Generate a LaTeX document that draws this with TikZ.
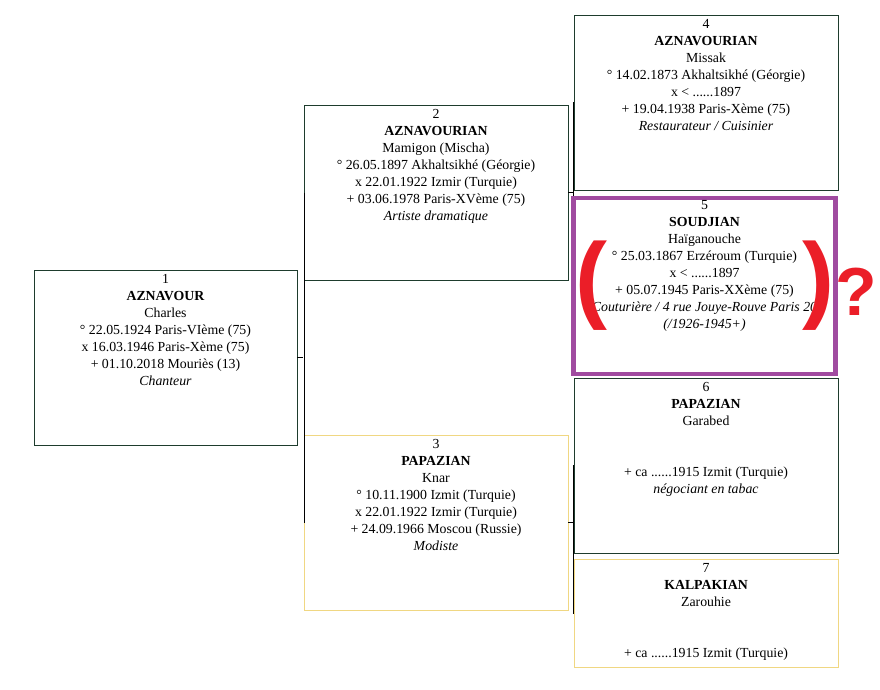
\documentclass[tikz,border=0pt]{standalone}
\usepackage{fontspec}
\setmainfont{Liberation Serif}
\newfontfamily\marksf{Liberation Sans}
\usetikzlibrary{positioning}
\definecolor{boxgreen}{RGB}{30,60,45}
\definecolor{boxyellow}{RGB}{240,215,130}
\definecolor{markpurple}{RGB}{160,75,160}
\definecolor{markred}{RGB}{235,30,40}
\tikzset{
	person/.style={draw=boxgreen, thin, minimum width=7.92cm, minimum height=5.25cm, inner sep=0pt},
	wife/.style={person, draw=boxyellow},
	info/.style={anchor=north, align=center, inner sep=0pt, font=\rmfamily\fontsize{11.8pt}{14.5pt}\selectfont},
	link/.style={draw=black, thin}
}
\begin{document}
\begin{tikzpicture}[x=0.03cm, y=-0.03cm]
	\useasboundingbox (0,0) rectangle (880,689);
	
	\node[person, minimum width=7.89cm] (p1) at (165.5,357.5) {};
	\node[person] (p2) at (436,192.5) {};
	\node[wife] (p3) at (436,522.5) {};
	\node[person] (p4) at (706,102.5) {};
	\node[person] (p6) at (706,465.5) {};
	\node[wife, minimum height=3.24cm] (p7) at (706,613) {};
	
	\coordinate (j1) at (303,357.5);
	\coordinate (j2) at (573,192.5);
	\coordinate (j3) at (573,522.5);
	\draw[link] (p1.east) -- (j1);
	\draw[link] (p2.west) -- (p3.west);
	\draw[link] (p2.east) -- (j2);
	\draw[link] (p3.east) -- (j3);
	\draw[link] (p4.west) -- ++(-1,0) |- (573,286);
	\draw[link] (p6.west) -- ++(-1,0) |- (p7.west);
	
	\node[draw=markpurple, line width=4pt, minimum width=7.86cm, minimum height=5.28cm, inner sep=0pt] (p5) at (704.5,286) {};
	
	\node[info] at ([yshift=-3.5pt]p1.north) {1\\\textbf{AZNAVOUR}\\Charles\\° 22.05.1924 Paris-VIème (75)\\x 16.03.1946 Paris-Xème (75)\\+ 01.10.2018 Mouriès (13)\\\textit{Chanteur}};
	\node[info] at ([yshift=-3.5pt]p2.north) {2\\\textbf{AZNAVOURIAN}\\Mamigon (Mischa)\\° 26.05.1897 Akhaltsikhé (Géorgie)\\x 22.01.1922 Izmir (Turquie)\\+ 03.06.1978 Paris-XVème (75)\\\textit{Artiste dramatique}};
	\node[info] at ([yshift=-3.5pt]p3.north) {3\\\textbf{PAPAZIAN}\\Knar\\° 10.11.1900 Izmit (Turquie)\\x 22.01.1922 Izmir (Turquie)\\+ 24.09.1966 Moscou (Russie)\\\textit{Modiste}};
	\node[info] at ([yshift=-3.5pt]p4.north) {4\\\textbf{AZNAVOURIAN}\\Missak\\° 14.02.1873 Akhaltsikhé (Géorgie)\\x < ......1897\\+ 19.04.1938 Paris-Xème (75)\\\textit{Restaurateur / Cuisinier}};
	\node[info] at ([yshift=-4pt]p5.north) {5\\\textbf{SOUDJIAN}\\Haïganouche\\° 25.03.1867 Erzéroum (Turquie)\\x < ......1897\\+ 05.07.1945 Paris-XXème (75)\\\textit{Couturière / 4 rue Jouye-Rouve Paris 20}\\\textit{(/1926-1945+)}};
	\node[info] at ([yshift=-3.5pt]p6.north) {6\\\textbf{PAPAZIAN}\\Garabed\\\\\\+ ca ......1915 Izmit (Turquie)\\\textit{négociant en tabac}};
	\node[info] at ([yshift=-3.5pt]p7.north) {7\\\textbf{KALPAKIAN}\\Zarouhie\\\\\\+ ca ......1915 Izmit (Turquie)};
	
	\node[text=markred, font=\marksf\bfseries\fontsize{82pt}{82pt}\selectfont, inner sep=0pt] (lpar) at (591,286) {(};
	\node[text=markred, font=\marksf\bfseries\fontsize{82pt}{82pt}\selectfont, inner sep=0pt] (rpar) at (818,286) {)};
	\node[text=markred, font=\marksf\bfseries\fontsize{58pt}{58pt}\selectfont, inner sep=0pt, anchor=south] (qmark) at (856,316) {?};
	
\end{tikzpicture}
\end{document}
